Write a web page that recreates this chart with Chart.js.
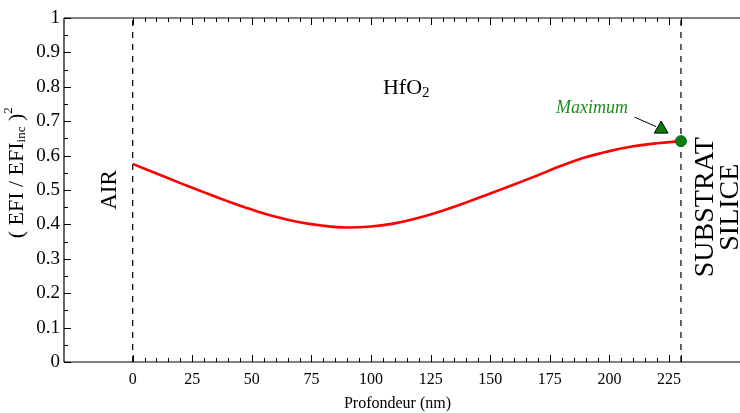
<!DOCTYPE html>
<html>
<head>
<meta charset="utf-8">
<script src="https://cdn.jsdelivr.net/npm/chart.js@4.4.0/dist/chart.umd.min.js"></script>
<style>
  html, body { margin: 0; padding: 0; background: #fff; }
  #wrap { width: 740px; height: 413px; position: relative; }
</style>
</head>
<body>
<div id="wrap"><canvas id="chart"></canvas></div>
<script>
// depth (nm) and normalized field intensity
const depth = [0, 10, 20, 30, 40, 50, 60, 70, 80, 90, 100, 110, 120, 130, 140, 150, 160, 170, 180, 190, 200, 210, 220, 230];
const intensity = [0.576, 0.548, 0.520, 0.493, 0.467, 0.443, 0.422, 0.406, 0.396, 0.391, 0.394, 0.403, 0.419, 0.440, 0.464, 0.490, 0.516, 0.543, 0.571, 0.595, 0.613, 0.627, 0.636, 0.642];
const interfaces = [0, 230];
const maxPoint = { x: 230, y: 0.642 };
const maxMarker = { x: 221.7, y: 0.677 };
const xTicks = [0, 25, 50, 75, 100, 125, 150, 175, 200, 225];
const yTicks = [0, 0.1, 0.2, 0.3, 0.4, 0.5, 0.6, 0.7, 0.8, 0.9, 1];

const serif = "'Liberation Serif', 'DejaVu Serif', serif";

const curve = depth.map((d, i) => ({ x: d, y: intensity[i] }));

const interfaceSets = interfaces.map(x => ({
    data: [{ x: x, y: 0 }, { x: x, y: 1 }],
    showLine: true,
    borderColor: '#111',
    borderWidth: 1.3,
    borderDash: [6, 6],
    pointRadius: 0,
    order: 5
}));

// axes frame, inward ticks and text labels
const decorPlugin = {
    id: 'decor',
    afterDatasetsDraw(chart) {
        const ctx = chart.ctx;
        const xs = chart.scales.x, ys = chart.scales.y;
        const a = chart.chartArea;
        ctx.save();
        ctx.strokeStyle = '#000';
        ctx.lineWidth = 1.2;
        ctx.beginPath();
        ctx.moveTo(a.left, a.top); ctx.lineTo(chart.width, a.top);
        ctx.moveTo(a.left, a.top); ctx.lineTo(a.left, a.bottom);
        ctx.moveTo(a.left, a.bottom); ctx.lineTo(chart.width, a.bottom);
        ctx.stroke();

        ctx.lineWidth = 1;
        ctx.beginPath();
        for (let v = 0; v <= 1.0001; v += 0.05) {
            const py = Math.round(ys.getPixelForValue(v)) + 0.5;
            const major = Math.abs(v * 10 - Math.round(v * 10)) < 0.01;
            ctx.moveTo(a.left, py); ctx.lineTo(a.left + (major ? 7 : 4), py);
        }
        for (let v = 0; v <= 230; v += 5) {
            const px = Math.round(xs.getPixelForValue(v)) + 0.5;
            const major = v % 25 === 0 || v === 230;
            const len = major ? 7 : 4;
            ctx.moveTo(px, a.bottom); ctx.lineTo(px, a.bottom - len);
            ctx.moveTo(px, a.top); ctx.lineTo(px, a.top + len);
        }
        ctx.stroke();

        // arrow to the maximum
        ctx.beginPath();
        ctx.moveTo(xs.getPixelForValue(210.5), ys.getPixelForValue(0.712));
        ctx.lineTo(xs.getPixelForValue(219.6), ys.getPixelForValue(0.684));
        ctx.stroke();

        ctx.fillStyle = '#1c8c1c';
        ctx.font = 'italic 18px ' + serif;
        ctx.textAlign = 'center';
        ctx.textBaseline = 'middle';
        ctx.fillText('Maximum', xs.getPixelForValue(192.7), ys.getPixelForValue(0.738));

        // HfO2
        ctx.fillStyle = '#000';
        ctx.font = '22px ' + serif;
        ctx.textAlign = 'left';
        const hx = xs.getPixelForValue(105), hy = ys.getPixelForValue(0.795);
        ctx.fillText('HfO', hx, hy);
        const hw = ctx.measureText('HfO').width;
        ctx.font = '15px ' + serif;
        ctx.fillText('2', hx + hw, hy + 5);

        // AIR
        ctx.save();
        ctx.translate(110, ys.getPixelForValue(0.5));
        ctx.rotate(-Math.PI / 2);
        ctx.font = '23px ' + serif;
        ctx.textAlign = 'center';
        ctx.fillText('AIR', 0, 0);
        ctx.restore();

        // substrate
        ctx.save();
        ctx.translate(706, ys.getPixelForValue(0.45));
        ctx.rotate(-Math.PI / 2);
        ctx.font = '28px ' + serif;
        ctx.textAlign = 'center';
        ctx.fillText('SUBSTRAT', 0, 0);
        ctx.fillText('SILICE', 0, 25);
        ctx.restore();

        // y axis title with sub/superscript
        ctx.save();
        ctx.translate(17, ys.getPixelForValue(0.55));
        ctx.rotate(-Math.PI / 2);
        const parts = [
            { t: '( EFI / EFI', f: '22px ', dy: 0 },
            { t: 'inc', f: '13px ', dy: 5 },
            { t: ' )', f: '22px ', dy: 0 },
            { t: '2', f: '13px ', dy: -8 }
        ];
        let total = 0;
        parts.forEach(p => { ctx.font = p.f + serif; p.w = ctx.measureText(p.t).width; total += p.w; });
        let cx = -total / 2;
        parts.forEach(p => {
            ctx.font = p.f + serif;
            ctx.fillText(p.t, cx, p.dy);
            cx += p.w;
        });
        ctx.restore();
        ctx.restore();
    }
};

new Chart(document.getElementById('chart'), {
    type: 'scatter',
    data: {
        datasets: [
            {
                data: curve,
                showLine: true,
                borderColor: '#ff0000',
                borderWidth: 2.6,
                pointRadius: 0,
                tension: 0.4,
                order: 2
            },
            ...interfaceSets,
            {
                data: [maxPoint],
                pointRadius: 5.5,
                pointBackgroundColor: '#0b7d0b',
                pointBorderColor: '#063',
                pointBorderWidth: 1,
                order: 1
            },
            {
                data: [maxMarker],
                pointStyle: 'triangle',
                pointRadius: 8,
                pointBackgroundColor: '#0b7d0b',
                pointBorderColor: '#000',
                pointBorderWidth: 1,
                order: 1
            }
        ]
    },
    options: {
        responsive: true,
        maintainAspectRatio: false,
        animation: false,
        layout: { padding: { top: 18, right: 0, left: 0, bottom: 0 } },
        plugins: { legend: { display: false }, tooltip: { enabled: false } },
        scales: {
            x: {
                type: 'linear',
                min: -28.8,
                max: 251.0,
                afterBuildTicks: s => { s.ticks = xTicks.map(v => ({ value: v })); },
                afterFit: s => { s.height = 51; s.paddingLeft = 0; s.paddingRight = 0; },
                grid: { display: false, drawTicks: false },
                border: { display: false },
                ticks: { color: '#000', font: { family: serif, size: 16 }, padding: 8, maxRotation: 0 },
                title: { display: true, text: 'Profondeur (nm)', color: '#000', font: { family: serif, size: 16 }, padding: { top: 2, bottom: 0 } }
            },
            y: {
                min: 0,
                max: 1,
                afterBuildTicks: s => { s.ticks = yTicks.map(v => ({ value: v })); },
                afterFit: s => { s.width = 64; s.paddingTop = 0; s.paddingBottom = 0; },
                grid: { display: false, drawTicks: false },
                border: { display: false },
                ticks: { color: '#000', font: { family: serif, size: 19 }, padding: 4, callback: v => String(Math.round(v * 10) / 10) }
            }
        }
    },
    plugins: [decorPlugin]
});
</script>
</body>
</html>
